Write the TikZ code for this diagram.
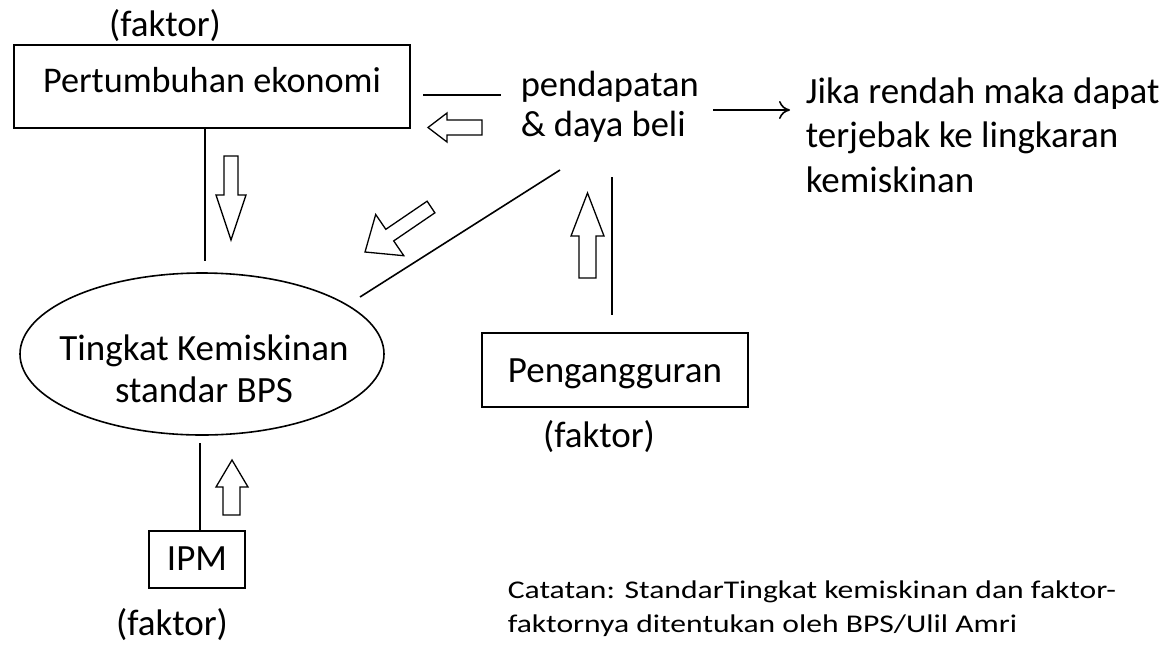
\documentclass[tikz,border=0pt]{standalone}
\usepackage{fontspec}
\setmainfont{Carlito}
\newfontfamily\notefont[FakeStretch=1.24]{Carlito}
\usetikzlibrary{arrows.meta,shapes.geometric}
\begin{document}
\begin{tikzpicture}[x=1pt,y=-1pt,line width=1.6pt,
  lbl/.style={inner sep=0pt,font=\fontsize{37}{42}\selectfont},
  boxnode/.style={draw,rectangle,inner sep=0pt,font=\fontsize{37}{42}\selectfont,text height=25pt},
  oval/.style={draw,ellipse,inner sep=0pt},
  hollow/.style={draw,line width=1.3pt,line join=miter},
  link/.style={draw,line width=1.6pt},
  note/.style={inner sep=0pt,font=\notefont\fontsize{25.5}{34}\selectfont,align=left}
]
\useasboundingbox (0,0) rectangle (1162,646);

% nodes
\node[boxnode,minimum width=396pt,minimum height=83pt,text depth=14pt,font=\fontsize{36.2}{42}\selectfont] (pe) at (212,86.5) {Pertumbuhan ekonomi};
\node[boxnode,minimum width=266pt,minimum height=74pt,text depth=1pt] (pen) at (615,370) {Pengangguran};
\node[boxnode,minimum width=96pt,minimum height=57pt,text depth=4pt] (ipm) at (197,559.5) {IPM};
\node[oval,minimum width=364pt,minimum height=162pt] (tk) at (202,354) {};
\node[lbl,align=center,anchor=base] (tkt) at (204,402) {Tingkat Kemiskinan\\standar BPS};

\node[lbl,anchor=base] (f1) at (165,36) {(faktor)};
\node[lbl,anchor=base] (f2) at (599,447) {(faktor)};
\node[lbl,anchor=base] (f3) at (172,635) {(faktor)};

\node[lbl,align=left,anchor=base west,font=\fontsize{36.5}{40}\selectfont] (pd) at (520,136) {pendapatan\\\& daya beli};
\node[lbl,align=left,anchor=base west,font=\fontsize{37}{44.5}\selectfont] (jk) at (805,192) {Jika rendah maka dapat\\terjebak ke lingkaran\\kemiskinan};
\node[note,anchor=base west] (nt) at (507,632) {Catatan: StandarTingkat kemiskinan dan faktor-\\faktornya ditentukan oleh BPS/Ulil Amri};

% free ends of connectors
\coordinate (a1) at (205,261);
\coordinate (h1) at (423,95);
\coordinate (h2) at (501,95);
\coordinate (r1) at (713,110);
\coordinate (r2) at (790,110);
\coordinate (d1) at (560,170);
\coordinate (d2) at (360,297);
\coordinate (v1) at (612,177);
\coordinate (v2) at (612,315);
\coordinate (b1) at (200,443);

% connector lines
\path[link] (pe.south -| a1) -- (a1);
\path[link] (h1) -- (h2);
\path[link,-{To[length=11pt,width=18pt]}] (r1) -- (r2);
\path[link] (d1) -- (d2);
\path[link] (v1) -- (v2);
\path[link] (b1) -- (b1 |- ipm.north);

% hollow block arrows
\path[hollow] (224,156) -- (238,156) -- (238,195) -- (246,195) -- (231,240) -- (216,195) -- (224,195) -- cycle;
\path[hollow] (482,120) -- (482,135) -- (447,135) -- (447,142) -- (428,127.5) -- (447,113) -- (447,120) -- cycle;
\path[hollow] (579,278) -- (596,278) -- (596,236) -- (604,236) -- (587.5,193) -- (571,236) -- (579,236) -- cycle;
\path[hollow] (223,515) -- (240,515) -- (240,487) -- (248,487) -- (232,460) -- (216,487) -- (223,487) -- cycle;
\path[hollow] (434.9,212.8) -- (393.7,240.9) -- (403.8,255.7) -- (365,252) -- (375.7,214.5) -- (385.8,229.3) -- (427.1,201.2) -- cycle;
\end{tikzpicture}
\end{document}
